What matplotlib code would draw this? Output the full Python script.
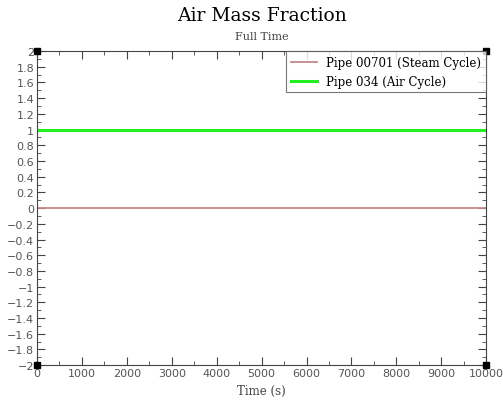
import matplotlib.pyplot as plt
from matplotlib.ticker import MultipleLocator, FuncFormatter

zaman = [0, 10000]
steam = [0, 0]
hava = [1, 1]

fig = plt.figure(figsize=(5.03, 4.10), dpi=100)
ax = fig.add_axes([0.0736, 0.107, 0.893, 0.766])

ax.plot(zaman, steam, color='#c08a8a', lw=1.3, label='Pipe 00701 (Steam Cycle)')
ax.plot(zaman, hava, color='#22ee22', lw=2.2, label='Pipe 034 (Air Cycle)')

ax.set_xlim(0, 10000)
ax.set_ylim(-2, 2)
ax.xaxis.set_major_locator(MultipleLocator(1000))
ax.xaxis.set_minor_locator(MultipleLocator(500))
ax.yaxis.set_major_locator(MultipleLocator(0.2))
ax.yaxis.set_minor_locator(MultipleLocator(0.1))
ax.yaxis.set_major_formatter(FuncFormatter(lambda v, p: ('%g' % round(v, 1)).replace('-', '\u2212')))
ax.xaxis.set_major_formatter(FuncFormatter(lambda v, p: '%d' % v))

ax.tick_params(which='both', direction='in', top=True, right=True, color='#444444',
               labelcolor='#555555', labelsize=8, pad=2)
ax.tick_params(which='major', length=6)
ax.tick_params(which='minor', length=3)
for s in ax.spines.values():
    s.set_color('#444444')

# kose kareleri
for cx, cy in [(0, 0), (1, 0), (0, 1), (1, 1)]:
    ax.plot(cx, cy, 's', color='black', ms=5, transform=ax.transAxes, clip_on=False, zorder=5)

fig.text(0.52, 0.96, 'Air Mass Fraction', ha='center', va='center', family='DejaVu Serif', fontsize=13.5)
fig.text(0.52, 0.91, 'Full Time', ha='center', va='center', family='DejaVu Serif', fontsize=8, color='#444444')
ax.set_xlabel('Time (s)', family='DejaVu Serif', fontsize=8.5, color='#444444', labelpad=4)

leg = ax.legend(loc='upper right', frameon=True, fancybox=False,
                borderaxespad=0, handlelength=2.2, prop={'family': 'DejaVu Serif', 'size': 8.5})
leg.get_frame().set_edgecolor('#555555')
leg.get_frame().set_linewidth(0.8)

plt.savefig('out.png', dpi=100)
